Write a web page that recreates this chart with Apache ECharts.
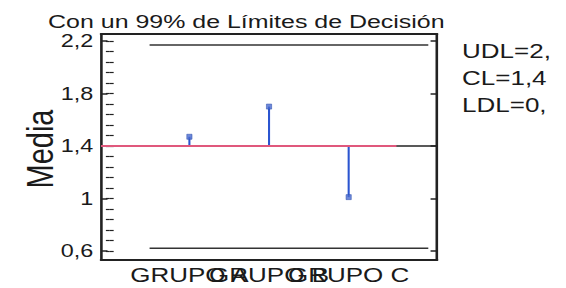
<!DOCTYPE html>
<html><head><meta charset="utf-8">
<script src="https://cdn.jsdelivr.net/npm/echarts@6/dist/echarts.min.js"></script>
<style>
html,body{margin:0;padding:0;background:#fff;overflow:hidden;width:566px;height:288px}
#c{height:288px;transform-origin:0 0;}
</style></head><body><div id="c"></div>
<script>
// ---- data ----
const categories = ['GRUPO A', 'GRUPO B', 'GRUPO C'];
const groupPositions = [1, 2, 3];
const means = [1.47, 1.70, 1.01];
const centerLine = 1.40;
const upperLimit = 2.17;
const lowerLimit = 0.62;
const yTickLabels = [0.6, 1.0, 1.4, 1.8, 2.2];
const yMinorTicks = [0.6, 0.68, 0.76, 0.84, 0.92, 1.0, 1.08, 1.16, 1.24, 1.32, 1.4, 1.48, 1.56, 1.64, 1.72, 1.8, 1.88, 1.96, 2.04, 2.12, 2.2];
const titleText = 'Con un 99% de Límites de Decisión';
const yName = 'Media';
const limitTexts = ['UDL=2,', 'CL=1,4', 'LDL=0,'];

// ---- layout ----
const S = 1.3;                 // horizontal stretch of the original picture
const W = 566 / S;
const el = document.getElementById('c');
el.style.width = W + 'px';
el.style.transform = 'scaleX(' + S + ')';

const xMin = -0.11, xMax = 4.11;
const yMin = 0.531, yMax = 2.253;
const limitSpan = [0.5, 4.0];
const pinkEnd = 3.6;
const FONT = '"Liberation Sans", Arial, sans-serif';
const ink = '#1a1a1a';

const chart = echarts.init(el, null, { renderer: 'svg', width: W, height: 288 });

const fmt = v => String(+v.toFixed(2)).replace('.', ',');

const yBase = {
  type: 'value', min: yMin, max: yMax, splitLine: { show: false },
  axisLine: { show: false }, axisLabel: { show: false }, axisTick: { show: false }
};

// one bottom axis per group label, so each label is drawn from the x scale
const groupLabelAxes = groupPositions.map((p, i) => ({
  type: 'value', min: xMin, max: xMax, position: 'bottom',
  axisLine: { show: i === 0, onZero: false, lineStyle: { color: '#222', width: 2 } },
  axisTick: { show: false }, splitLine: { show: false },
  axisLabel: {
    customValues: [p],
    formatter: () => categories[i],
    fontSize: 20, lineHeight: 16, fontFamily: FONT, color: ink, margin: 7, hideOverlap: false
  }
}));

chart.setOption({
  animation: false,
  backgroundColor: '#fff',
  title: {
    text: titleText, left: 32, top: 8,
    textStyle: { fontSize: 19.2, lineHeight: 18, fontFamily: FONT, fontWeight: 'normal', color: ink }
  },
  grid: { left: 77.7, right: W - 336.2, top: 34, bottom: 28 },
  xAxis: groupLabelAxes.concat([
    {
      type: 'value', min: xMin, max: xMax, position: 'top',
      axisLine: { show: true, onZero: false, lineStyle: { color: '#222', width: 2 } },
      axisTick: { show: false }, axisLabel: { show: false }, splitLine: { show: false }
    }
  ]),
  yAxis: [
    Object.assign({}, yBase, {
      position: 'left',
      axisLine: { show: true, onZero: false, lineStyle: { color: '#222', width: 2 } },
      axisTick: { show: true, inside: true, length: 5, customValues: yTickLabels, lineStyle: { color: '#222', width: 1.5 } },
      axisLabel: { show: true, customValues: yTickLabels, formatter: fmt, fontSize: 18, lineHeight: 14, fontFamily: FONT, color: ink, margin: 6 }
    }),
    Object.assign({}, yBase, {
      position: 'right',
      axisLine: { show: true, onZero: false, lineStyle: { color: '#222', width: 2 } },
      axisTick: { show: true, inside: true, length: 5, customValues: yTickLabels, lineStyle: { color: '#222', width: 1.5 } }
    }),
    Object.assign({}, yBase, {
      position: 'left',
      axisTick: { show: true, inside: true, length: 3, customValues: yMinorTicks, lineStyle: { color: '#222', width: 1.2 } }
    }),
    Object.assign({}, yBase, {
      position: 'right',
      axisTick: { show: true, inside: true, length: 3, customValues: yMinorTicks, lineStyle: { color: '#222', width: 1.2 } }
    })
  ],
  series: [
    {
      type: 'line', symbol: 'none', silent: true,
      data: [[limitSpan[0], upperLimit], [limitSpan[1], upperLimit]],
      lineStyle: { color: '#333', width: 1.5 }
    },
    {
      type: 'line', symbol: 'none', silent: true,
      data: [[limitSpan[0], lowerLimit], [limitSpan[1], lowerLimit]],
      lineStyle: { color: '#333', width: 1.5 }
    },
    {
      type: 'line', symbol: 'none', silent: true,
      data: [[xMin, centerLine], [xMax, centerLine]],
      lineStyle: { color: '#222', width: 1.5 }
    },
    {
      type: 'line', symbol: 'none', silent: true,
      data: [[xMin, centerLine], [pinkEnd, centerLine]],
      lineStyle: { color: '#e0587c', width: 2 }
    },
    {
      type: 'custom',
      data: groupPositions.map((x, i) => [x, means[i]]),
      renderItem: function (params, api) {
        const a = api.coord([api.value(0), centerLine]);
        const b = api.coord([api.value(0), api.value(1)]);
        return {
          type: 'line',
          shape: { x1: a[0], y1: a[1], x2: b[0], y2: b[1] },
          style: { stroke: '#2b55d0', lineWidth: 1.6 }
        };
      },
      z: 3
    },
    {
      type: 'scatter', symbol: 'rect', symbolSize: [4, 5],
      data: groupPositions.map((x, i) => [x, means[i]]),
      itemStyle: { color: '#4a6bd0', borderColor: '#2e4fae', borderWidth: 0.6 },
      z: 4
    }
  ],
  graphic: [
    {
      type: 'text', x: 30.8, y: 149, rotation: Math.PI / 2,
      style: { text: yName, fontSize: 29, fontFamily: FONT, fill: ink, textAlign: 'center', textVerticalAlign: 'middle' }
    },
    {
      type: 'text', x: 355.4, y: 51.5,
      style: { text: limitTexts[0], fontSize: 20, fontFamily: FONT, fill: ink, textVerticalAlign: 'middle' }
    },
    {
      type: 'text', x: 355.4, y: 78,
      style: { text: limitTexts[1], fontSize: 20, fontFamily: FONT, fill: ink, textVerticalAlign: 'middle' }
    },
    {
      type: 'text', x: 355.4, y: 105,
      style: { text: limitTexts[2], fontSize: 20, fontFamily: FONT, fill: ink, textVerticalAlign: 'middle' }
    }
  ]
});
</script>
</body></html>
